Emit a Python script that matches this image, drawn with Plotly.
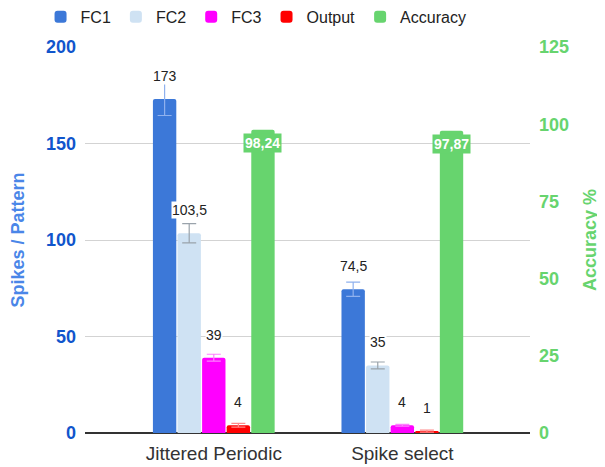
import plotly.graph_objects as go

categories = ["Jittered Periodic", "Spike select"]
series_names = ["FC1", "FC2", "FC3", "Output"]
fc1 = [173, 74.5]
fc2 = [103.5, 35]
fc3 = [39, 4]
output = [4, 1]
accuracy = [98.24, 97.87]

fc1_err = [8.5, 3.7]
fc2_err = [5, 1.8]
fc3_err = [1.8, 0.5]
output_err = [1, 0.5]

spike_series = [fc1, fc2, fc3, output]
spike_errors = [fc1_err, fc2_err, fc3_err, output_err]
bar_colors = ["#3c78d8", "#cfe2f3", "#ff00ff", "#ff0000"]
err_colors = ["#8fb1ee", "#9aa3ab", "#ff80ff", "#ff8a8a"]
acc_color = "#67d46e"

FONT = "Arial, Liberation Sans, sans-serif"
pitch = 0.1304      # distance between neighbouring bars (category units)
bar_w = 0.124


def fmt(v):
    return f"{v:g}".replace(".", ",")


def xs(k):
    # numeric position of series k inside each category group
    return [i + (k - 2) * pitch for i in range(len(categories))]


fig = go.Figure()
annotations = []

for k, (name, vals, errs) in enumerate(zip(series_names, spike_series, spike_errors)):
    fig.add_trace(go.Bar(
        x=xs(k), y=vals, name=name, width=bar_w,
        marker=dict(color=bar_colors[k], cornerradius=2, line=dict(width=0)),
        error_y=dict(type="data", array=errs, color=err_colors[k], thickness=1.2, width=7),
    ))
    for x, v in zip(xs(k), vals):
        annotations.append(dict(
            x=x, y=v, xref="x", yref="y", text=fmt(v), showarrow=False,
            yanchor="middle", yshift=23, bgcolor="white", borderpad=0,
            font=dict(family=FONT, size=14, color="#222222"),
        ))

fig.add_trace(go.Bar(
    x=xs(4), y=accuracy, name="Accuracy", width=bar_w, yaxis="y2",
    marker=dict(color=acc_color, cornerradius=2, line=dict(width=0)),
))
for x, v in zip(xs(4), accuracy):
    annotations.append(dict(
        x=x, y=v, xref="x", yref="y2", text=f"<b>{fmt(v)}</b>", showarrow=False,
        yanchor="middle", yshift=-13, bgcolor=acc_color, borderpad=1,
        font=dict(family=FONT, size=14, color="white"),
    ))

# the page body adds an 8px offset, margins compensate for it
fig.update_layout(
    width=605, height=467,
    margin=dict(l=77, r=83, t=39, b=42, autoexpand=False),
    plot_bgcolor="white", paper_bgcolor="white",
    font=dict(family=FONT, color="#222222"),
    barmode="overlay",
    showlegend=True,
    legend=dict(orientation="h", x=0.41, xref="container", xanchor="center",
                y=0.981, yref="container", yanchor="middle",
                font=dict(family=FONT, size=16, color="#222222"),
                itemwidth=30, traceorder="normal"),
    annotations=annotations,
    xaxis=dict(
        range=[-0.683, 1.677], tickvals=list(range(len(categories))), ticktext=categories,
        showgrid=False, zeroline=False, showline=False, ticks="", automargin=False,
        ticklabelstandoff=7,
        tickfont=dict(family=FONT, size=19, color="#333333"),
    ),
    yaxis=dict(
        range=[0, 200], tickvals=[0, 50, 100, 150, 200], automargin=False,
        showgrid=True, gridcolor="#d3d3d3", gridwidth=1,
        zeroline=True, zerolinecolor="#333333", zerolinewidth=1.5,
        tickfont=dict(family=FONT, size=18, color="#1155cc", weight="bold"),
        ticklabelstandoff=8,
        title=dict(text="Spikes / Pattern", standoff=16,
                   font=dict(family=FONT, size=18, color="#4a86e8", weight="bold")),
    ),
    yaxis2=dict(
        range=[0, 125], tickvals=[0, 25, 50, 75, 100, 125], automargin=False,
        overlaying="y", side="right", showgrid=False, zeroline=False,
        tickfont=dict(family=FONT, size=18, color=acc_color, weight="bold"),
        ticklabelstandoff=8,
        title=dict(text="Accuracy %", standoff=15,
                   font=dict(family=FONT, size=18, color=acc_color, weight="bold")),
    ),
)

fig.write_html("out.html")
